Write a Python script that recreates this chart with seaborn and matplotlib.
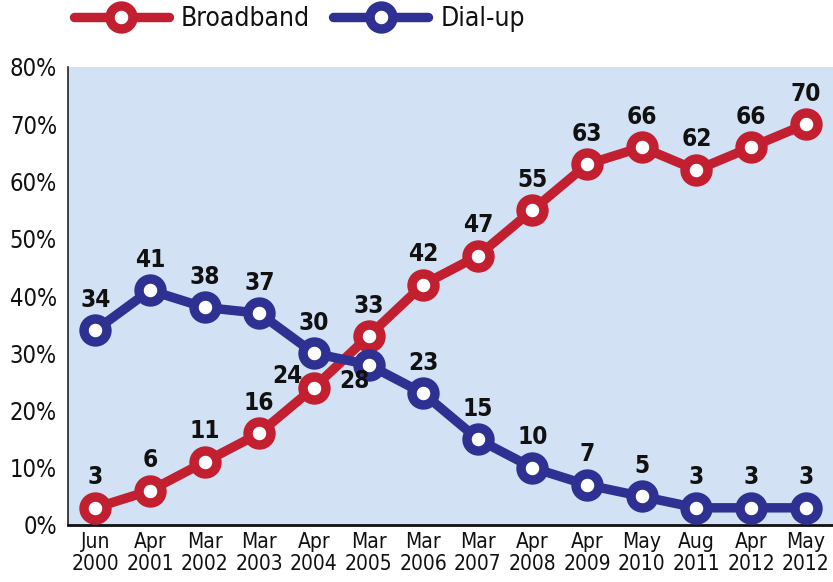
import matplotlib
matplotlib.use("Agg")
import matplotlib.pyplot as plt
from matplotlib.lines import Line2D
import seaborn as sns
import pandas as pd

categories = ["Jun\n2000", "Apr\n2001", "Mar\n2002", "Mar\n2003", "Apr\n2004", "Mar\n2005",
              "Mar\n2006", "Mar\n2007", "Apr\n2008", "Apr\n2009", "May\n2010", "Aug\n2011",
              "Apr\n2012", "May\n2012"]
broadband = [3, 6, 11, 16, 24, 33, 42, 47, 55, 63, 66, 62, 66, 70]
dialup = [34, 41, 38, 37, 30, 28, 23, 15, 10, 7, 5, 3, 3, 3]
y_ticks = [0, 10, 20, 30, 40, 50, 60, 70, 80]
y_tick_labels = ["0%", "10%", "20%", "30%", "40%", "50%", "60%", "70%", "80%"]

RED = "#C21F30"
BLUE = "#2E3192"
BG = "#D3E1F4"

sns.set_style("white")
plt.rcParams["font.family"] = ["DejaVu Sans"]
plt.rcParams["font.stretch"] = "condensed"

df = pd.DataFrame({"x": list(range(len(categories))) * 2,
                   "value": broadband + dialup,
                   "series": ["Broadband"] * len(categories) + ["Dial-up"] * len(categories)})

fig = plt.figure(figsize=(8.33, 5.82), dpi=100)
ax = fig.add_axes([68 / 833, 57 / 582, 1 - 68 / 833, (525 - 67) / 582])
ax.set_facecolor(BG)

mk = dict(marker="o", markersize=16.5, markerfacecolor="white", markeredgewidth=6.8)
for name, col, z in [("Broadband", RED, 3), ("Dial-up", BLUE, 4)]:
    sub = df[df.series == name]
    sns.lineplot(data=sub, x="x", y="value", ax=ax, color=col, linewidth=6.8,
                 markeredgecolor=col, zorder=z, legend=False, **mk)

ax.set_xlim(-0.5, 13.5)
ax.set_ylim(0, 80)
ax.set_xlabel("")
ax.set_ylabel("")

# data labels
lab_kw = dict(fontsize=17.5, fontweight="bold", color="#111111", ha="center", va="center",
              textcoords="offset points", zorder=6)
for i, v in enumerate(broadband):
    off = (0, 22)
    if i == 4:
        off = (-19, 8)
    ax.annotate(str(v), (i, v), xytext=off, **lab_kw)
for i, v in enumerate(dialup):
    off = (0, 22)
    if i == 5:
        off = (-10, -12)
    ax.annotate(str(v), (i, v), xytext=off, **lab_kw)

ax.set_yticks(y_ticks)
ax.set_yticklabels(y_tick_labels, fontsize=17)
ax.set_xticks(range(len(categories)))
ax.set_xticklabels(categories, fontsize=15, linespacing=1.15)
ax.set_xticks(range(1, 11), minor=True)
ax.tick_params(axis="both", which="major", length=0, pad=5, colors="#111111")
ax.tick_params(axis="x", which="minor", direction="in", length=8, width=2, color="#111111")
ax.tick_params(axis="y", pad=8)

for s in ["top", "right"]:
    ax.spines[s].set_visible(False)
ax.spines["left"].set_color("#222222")
ax.spines["left"].set_linewidth(1.2)
ax.spines["bottom"].set_color("#111111")
ax.spines["bottom"].set_linewidth(2)

handles = [Line2D([], [], color=RED, linewidth=6.8, solid_capstyle="round", **mk, markeredgecolor=RED),
           Line2D([], [], color=BLUE, linewidth=6.8, solid_capstyle="round", **mk, markeredgecolor=BLUE)]
leg = fig.legend(handles, ["Broadband", "Dial-up"], loc="upper left", bbox_to_anchor=(68 / 833 - 0.006, 1.008),
                 ncol=2, frameon=False, fontsize=19, handlelength=3.6, handletextpad=0.45,
                 columnspacing=0.9, borderaxespad=0)
for t in leg.get_texts():
    t.set_color("#111111")

fig.savefig("out.png", dpi=100)
